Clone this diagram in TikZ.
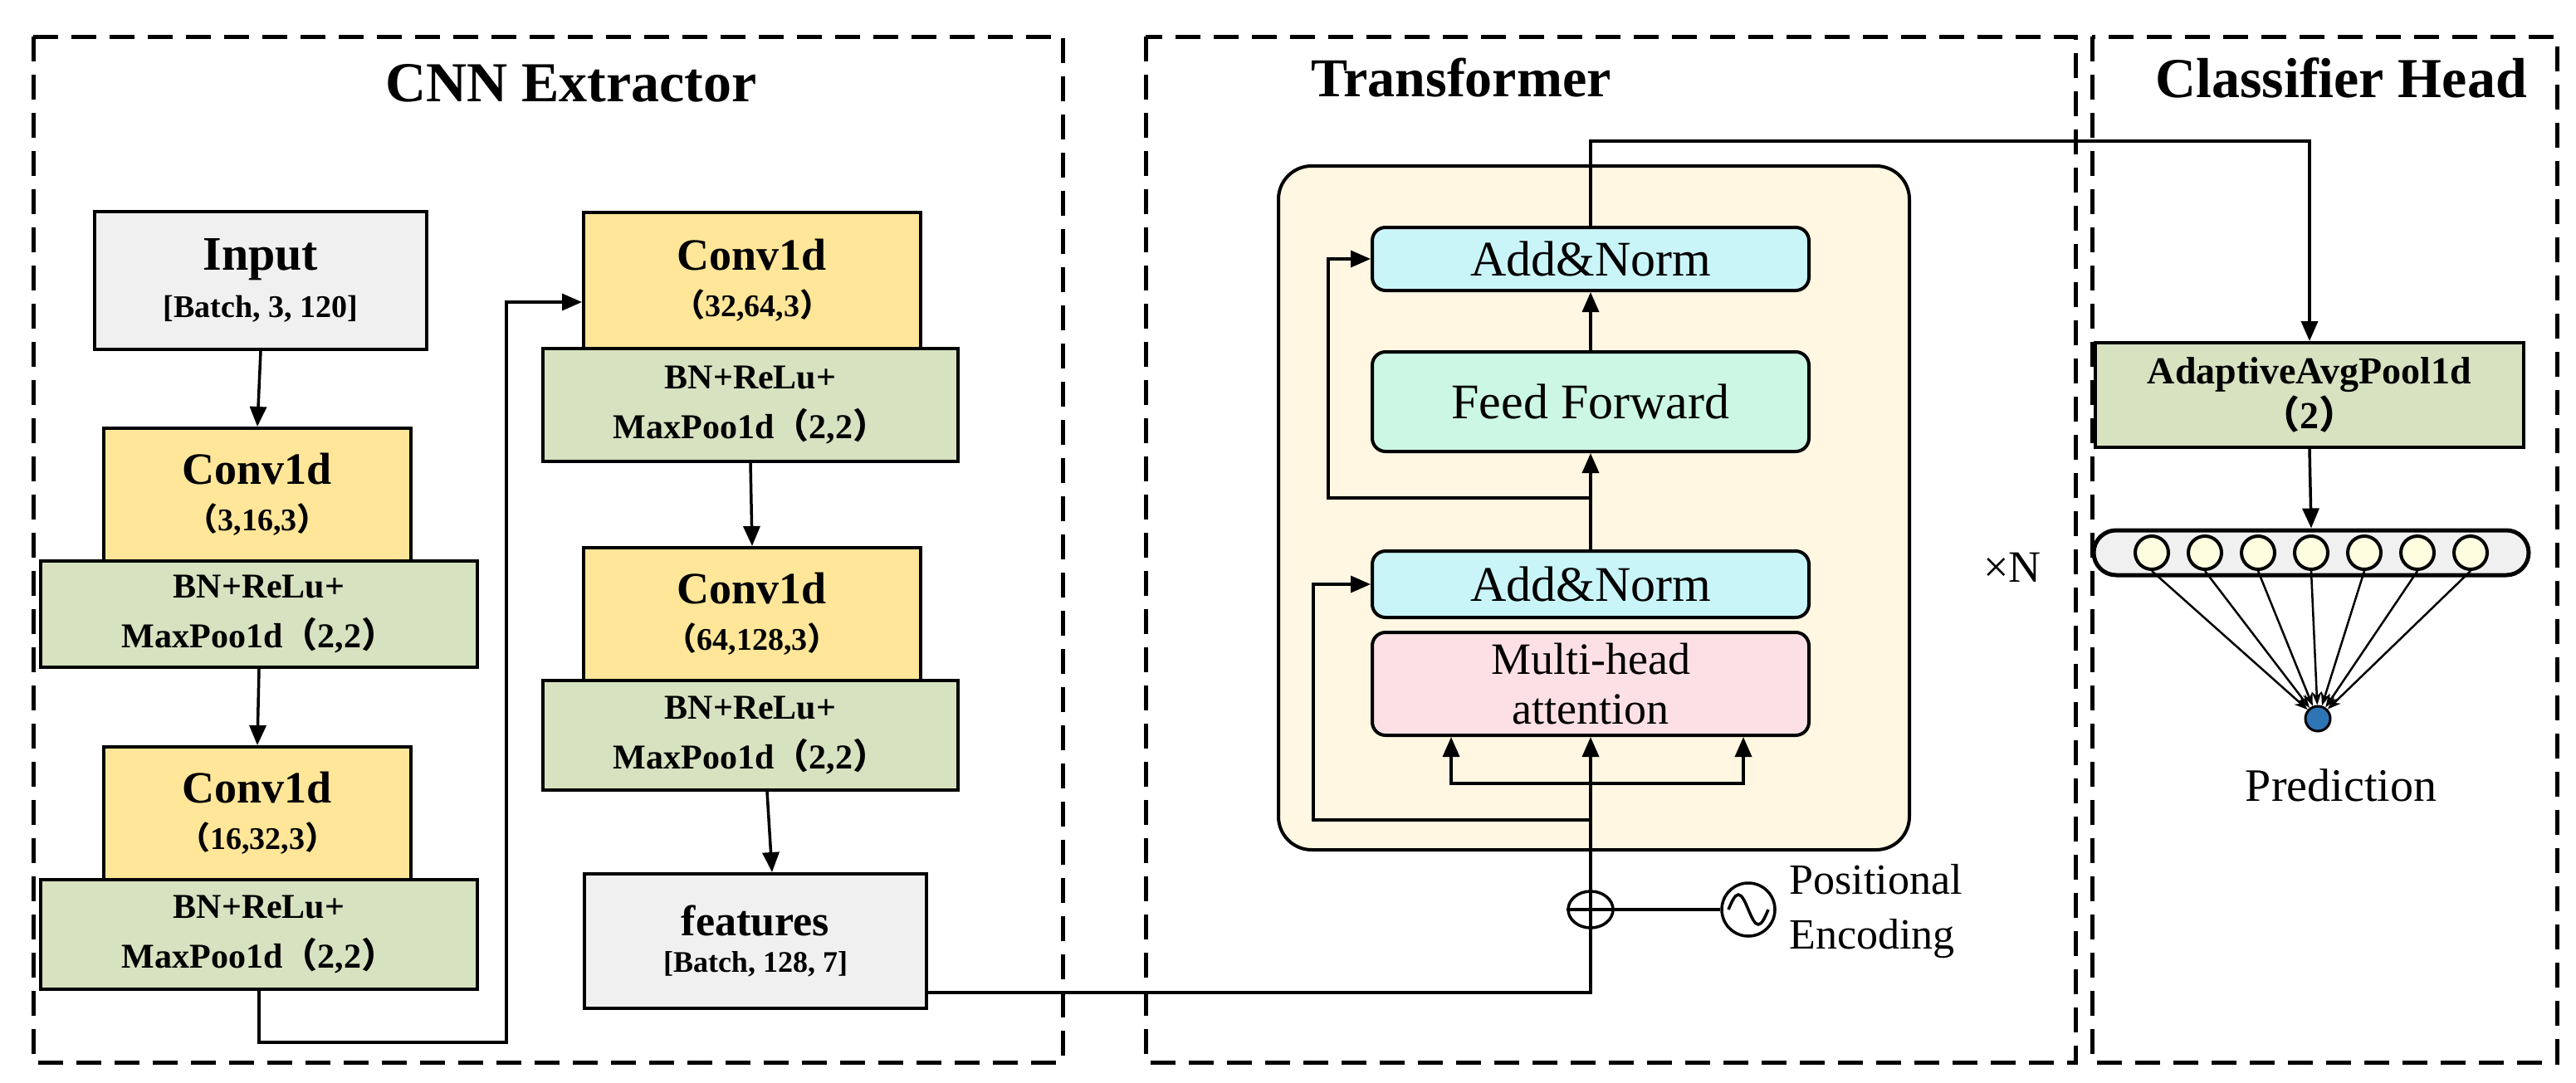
\documentclass[tikz,border=0pt]{standalone}
\usepackage{fontspec}
\setmainfont{Liberation Serif}
\newfontfamily\cjk{Noto Sans CJK SC}
\usetikzlibrary{arrows.meta,shapes.geometric,calc}
\definecolor{cgray}{HTML}{F0F0F0}
\definecolor{cyel}{HTML}{FFE699}
\definecolor{cgrn}{HTML}{D6E2C0}
\definecolor{cinner}{HTML}{FFF7E1}
\definecolor{cadd}{HTML}{C9F5F9}
\definecolor{cff}{HTML}{CCF7E4}
\definecolor{cmha}{HTML}{FCE0E6}
\definecolor{cnode}{HTML}{FFFDE0}
\definecolor{cdot}{HTML}{2E75B6}
\newcommand{\fp}[1]{{\cjk #1}}
\tikzset{
  sz/.style 2 args={minimum width=2pt*#1,minimum height=2pt*#2},
  box/.style={draw,line width=4pt,inner sep=0pt,align=center},
  dashbox/.style={draw,line width=5pt,dash pattern=on 30pt off 16pt},
  wire/.style={line width=3.5pt},
  arr/.style={line width=3.5pt,-{Triangle[length=24pt,width=20pt]}},
  bn/.style={font=\fontsize{42}{60}\selectfont\bfseries},
  tr/.style={font=\fontsize{60}{66}\selectfont},
}
\newcommand{\conv}[1]{{\fontsize{54}{60}\selectfont\bfseries Conv1d}\\[22pt]{\fontsize{38}{42}\selectfont\bfseries \fp{（}#1\fp{）}}}
\begin{document}
\begin{tikzpicture}[x=2pt,y=-2pt]
\useasboundingbox (0,0) rectangle (1551.5,652);
% dashed frames
\draw[dashbox] (20,22) rectangle (640,640);
\draw[dashbox] (690,22) rectangle (1250,640);
\draw[dashbox] (1260,22) rectangle (1540,640);
\node[font=\fontsize{68}{74}\selectfont\bfseries] (t1) at (344,50) {CNN Extractor};
\node[font=\fontsize{66}{72}\selectfont\bfseries] (t2) at (880,47) {Transformer};
\node[font=\fontsize{68}{74}\selectfont\bfseries] (t3) at (1410,47) {Classifier Head};
% CNN
\node[box,fill=cgray,sz={200}{83}] (inp) at (157,169) {{\fontsize{58}{62}\selectfont\bfseries Input}\\[18pt]{\fontsize{38}{42}\selectfont\bfseries [Batch, 3, 120]}};
\node[box,fill=cyel,sz={185}{80}] (c1) at (155,298) {\conv{3,16,3}};
\node[box,fill=cgrn,sz={263}{64},bn] (b1) at (156,370) {BN+ReLu+\\MaxPoo1d\fp{（}2,2\fp{）}};
\node[box,fill=cyel,sz={185}{80}] (c2) at (155,490) {\conv{16,32,3}};
\node[box,fill=cgrn,sz={263}{66},bn] (b2) at (156,563) {BN+ReLu+\\MaxPoo1d\fp{（}2,2\fp{）}};
\node[box,fill=cyel,sz={203}{82}] (c3) at (453,169) {\conv{32,64,3}};
\node[box,fill=cgrn,sz={250}{68},bn] (b3) at (452,244) {BN+ReLu+\\MaxPoo1d\fp{（}2,2\fp{）}};
\node[box,fill=cyel,sz={203}{80}] (c4) at (453,370) {\conv{64,128,3}};
\node[box,fill=cgrn,sz={250}{66},bn] (b4) at (452,443) {BN+ReLu+\\MaxPoo1d\fp{（}2,2\fp{）}};
\node[box,fill=cgray,sz={206}{81}] (ft) at (455,567) {{\fontsize{52}{58}\selectfont\bfseries features}\\[18pt]{\fontsize{36}{40}\selectfont\bfseries [Batch, 128, 7]}};
\draw[arr] (inp.south) -- (c1.north);
\draw[arr] (b1.south) -- (c2.north);
\coordinate (k1) at (305,628);
\coordinate (k2) at (305,182);
\draw[arr] (b2.south) |- (k1) -- (k2) -- (c3.west|-k2);
\draw[arr] (b3.south) -- (c4.north);
\draw[arr] ([xshift=20pt]b4.south) -- ([xshift=20pt]ft.north);
% Transformer
\draw[line width=4pt,fill=cinner,rounded corners=40pt] (770,100) rectangle (1150,512);
\node[box,fill=cadd,rounded corners=16pt,sz={263}{38},tr] (an1) at (958,156) {Add\&Norm};
\node[box,fill=cff,rounded corners=16pt,sz={263}{60},tr] (ff) at (958,242) {Feed Forward};
\node[box,fill=cadd,rounded corners=16pt,sz={263}{40},tr] (an2) at (958,352) {Add\&Norm};
\node[box,fill=cmha,rounded corners=16pt,sz={263}{62},font=\fontsize{54}{60}\selectfont] (mha) at (958,412) {Multi-head\\attention};
\node[font=\fontsize{54}{60}\selectfont] (xn) at (1212,342) {×N};
\node[draw,line width=3.5pt,ellipse,minimum width=54pt,minimum height=44pt,inner sep=0pt] (plus) at (958,548) {};
\draw[line width=3.5pt] (plus.north) -- (plus.south) (plus.west) -- (plus.east);
\node[draw,line width=3.5pt,circle,minimum size=64pt,inner sep=0pt] (pe) at (1053,548) {};
\draw[line width=3.5pt] ($(pe)+(-12,0)$) sin ($(pe)+(-6,-9)$) cos (pe) sin ($(pe)+(6,9)$) cos ($(pe)+(12,0)$);
\node[font=\fontsize{52}{66}\selectfont,align=left,anchor=west] (pet) at (1076,549) {Positional\\Encoding};
\draw[wire] (plus.east) -- (pe.west);
\coordinate (fj) at (958,598);
\draw[wire] (ft.east|-fj) -- (fj) -- (plus.south);
\draw[arr] (plus.north) -- (mha.south);
\coordinate (br) at (958,472);
\coordinate (bl) at (874,472);
\coordinate (brr) at (1050,472);
\draw[arr] (br) -- (bl) -- (bl|-mha.south);
\draw[arr] (br) -- (brr) -- (brr|-mha.south);
\coordinate (r1) at (958,494);
\coordinate (r1l) at (791,494);
\draw[arr] (r1) -- (r1l) |- (an2.west);
\draw[arr] (an2.north) -- (ff.south);
\draw[arr] (ff.north) -- (an1.south);
\coordinate (r2) at (958,300);
\coordinate (r2l) at (800,300);
\draw[arr] (r2) -- (r2l) |- (an1.west);
% Classifier
\node[box,fill=cgrn,sz={258}{63},font=\fontsize{46}{54}\selectfont\bfseries] (pool) at (1391,238) {AdaptiveAvgPool1d\\\fp{（}2\fp{）}};
\coordinate (tp) at (958,85);
\draw[arr] (an1.north) -- (tp) -| (pool.north);
\node[draw,line width=5pt,fill=cgray,rounded corners=27pt,sz={262}{27}] (bar) at (1392,333) {};
\draw[arr] (pool.south) -- (bar.north);
\node[draw,line width=3pt,fill=cdot,circle,minimum size=30pt,inner sep=0pt] (dot) at (1396,433) {};
\foreach \i/\x in {1/1296,2/1328,3/1360,4/1392,5/1424,6/1456,7/1488}{
  \node[draw,line width=4pt,fill=cnode,ellipse,minimum width=40pt,minimum height=40pt,inner sep=0pt] (n\i) at (\x,333) {};
  \draw[line width=2.5pt,-{Stealth[length=16pt,width=12pt]}] (n\i.south) -- (dot);
}
\node[font=\fontsize{56}{60}\selectfont] (pred) at (1410,473) {Prediction};
\end{tikzpicture}
\end{document}
